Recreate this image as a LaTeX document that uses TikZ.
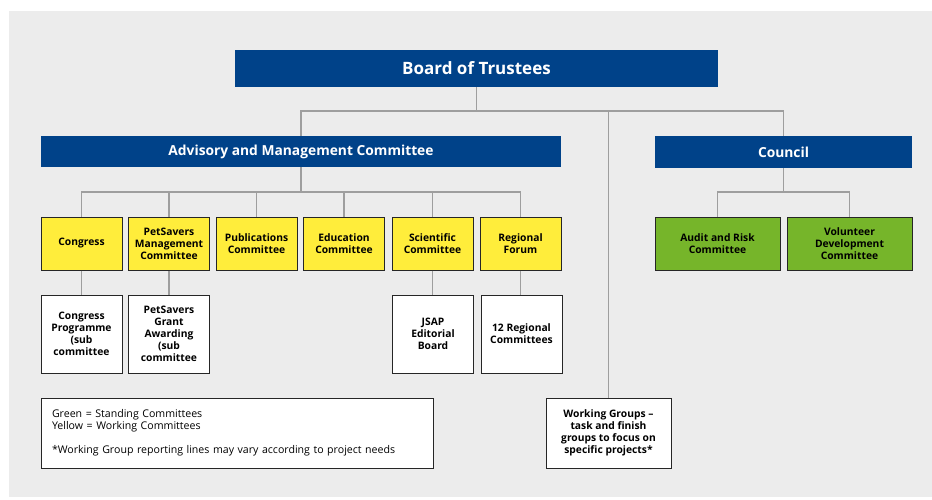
\documentclass[tikz,border=0pt]{standalone}
\usepackage{fontspec}
\setmainfont{Open Sans}
\definecolor{trustblue}{RGB}{0,66,137}
\definecolor{workyellow}{RGB}{255,237,59}
\definecolor{standgreen}{RGB}{118,181,42}
\definecolor{pagegray}{RGB}{236,236,236}
\definecolor{linkgray}{RGB}{158,158,158}
\tikzset{x=1pt,y=-1pt,
    headbox/.style={fill=trustblue,text=white,inner sep=0pt},
    box/.style={draw=black!85,line width=1pt,align=center,inner sep=1pt,
        font=\bfseries\fontsize{10.3}{12}\selectfont},
    workbox/.style={box,fill=workyellow,minimum width=81pt,minimum height=53pt},
    standbox/.style={box,fill=standgreen,minimum width=125pt,minimum height=53pt},
    subbox/.style={box,fill=white,minimum width=81pt,minimum height=78pt},
    link/.style={draw=linkgray,line width=1.1pt},
    }
\begin{document}
\begin{tikzpicture}
\useasboundingbox (0,0) rectangle (932,499);
\fill[pagegray] (9,11) rectangle (932,497);
% top level
\node[headbox,minimum width=483pt,minimum height=37pt,font=\bfseries\fontsize{17}{20}\selectfont] (board) at (476.5,68.5) {Board of Trustees};
\node[headbox,minimum width=520pt,minimum height=31pt,font=\bfseries\fontsize{13.8}{17}\selectfont] (adv) at (301,151.5) {Advisory and Management Committee};
\node[headbox,minimum width=257pt,minimum height=32pt,font=\bfseries\fontsize{13.8}{17}\selectfont] (council) at (783.5,152) {Council};
% working committees
\node[workbox] (congress) at (81.5,243.5) {Congress};
\node[workbox] (petsavers) at (169,243.5) {PetSavers\\Management\\Committee};
\node[workbox] (publications) at (256.5,243.5) {Publications\\Committee};
\node[workbox] (education) at (344,243.5) {Education\\Committee};
\node[workbox] (scientific) at (432.5,243.5) {Scientific\\Committee};
\node[workbox] (regional) at (520.5,243.5) {Regional\\Forum};
% sub committees
\node[subbox] (congprog) at (81.5,334) {Congress\\Programme\\(sub\\committee};
\node[subbox] (grant) at (169,334) {PetSavers\\Grant\\Awarding\\(sub\\committee};
\node[subbox] (jsap) at (433,334) {JSAP\\Editorial\\Board};
\node[subbox] (regcomm) at (521.5,334) {12 Regional\\Committees};
% standing committees
\node[standbox] (audit) at (717.5,243.5) {Audit and Risk\\Committee};
\node[standbox] (volunteer) at (849.5,243.5) {Volunteer\\Development\\Committee};
% working groups and key
\node[box,fill=white,minimum width=125pt,minimum height=70pt] (wg) at (608.5,433) {Working Groups --\\task and finish\\groups to focus on\\specific projects*};
\node[box,fill=white,font=\fontsize{10.6}{12}\selectfont,align=left,text width=370pt,inner xsep=11pt,minimum height=70pt] (key) at (237,433)
    {Green = Standing Committees\\Yellow = Working Committees\\[12pt]*Working Group reporting lines may vary according to project needs};
% connectors
\coordinate (tbus) at (476.5,111);
\coordinate (abus) at (301,192);
\coordinate (cbus) at (783.5,192);
\draw[link] (board.south) -- (tbus);
\draw[link] (adv.north) |- (tbus) -| (council.north);
\draw[link] (tbus -| wg.north) -- (wg.north);
\draw[link] (adv.south) -- (abus);
\draw[link] (congress.north) |- (abus) -| (regional.north);
\foreach \n in {petsavers,publications,education,scientific}
    \draw[link] (\n.north) -- (\n.north |- abus);
\draw[link] (council.south) -- (cbus);
\draw[link] (audit.north) |- (cbus) -| (volunteer.north);
\draw[link] (congress.south) -- (congprog.north);
\draw[link] (petsavers.south) -- (grant.north);
\draw[link] (scientific.south) -- (scientific.south |- jsap.north);
\draw[link] (regional.south) -- (regional.south |- regcomm.north);
\end{tikzpicture}
\end{document}
